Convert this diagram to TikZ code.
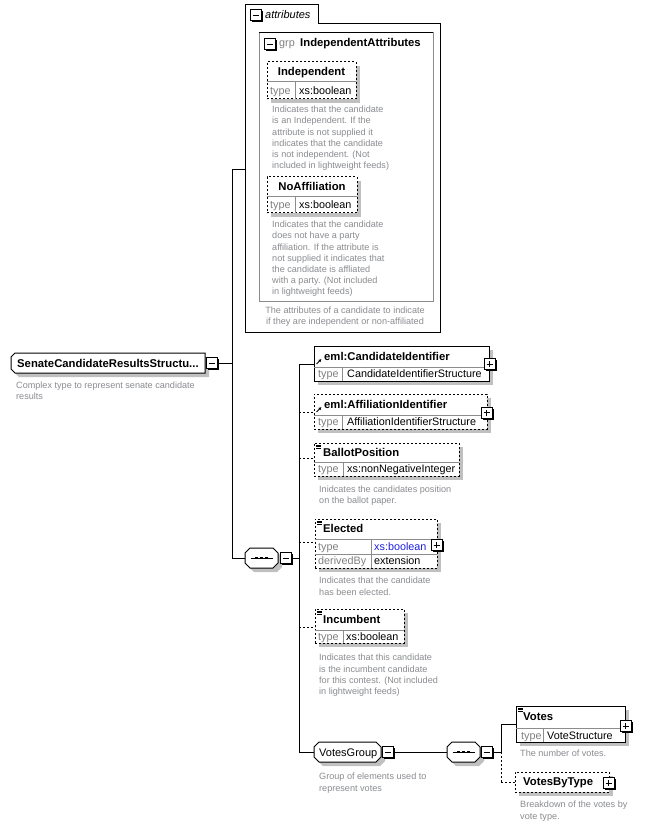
\documentclass[tikz,border=0pt]{standalone}
\usepackage{fontspec}
\setmainfont{Liberation Sans}
\usetikzlibrary{arrows.meta}

\definecolor{shadowc}{HTML}{C0C0C0}
\definecolor{typec}{HTML}{808080}
\definecolor{descc}{HTML}{8A8C90}
\definecolor{rowc}{HTML}{8C8C8C}
\definecolor{bluec}{HTML}{2020E0}

\tikzset{
  ebox/.style={draw, line width=1pt, fill=white, rectangle, inner sep=0pt, outer sep=0pt},
  optbox/.style={ebox, dash pattern=on 2pt off 2pt},
  pmb/.style={draw, line width=1pt, fill=white, rectangle, minimum size=11pt, inner sep=0pt, outer sep=0pt},
  anchorbox/.style={rectangle, inner sep=0pt, outer sep=0pt},
  rowline/.style={draw=rowc, line width=1pt},
  nm/.style={font=\bfseries\fontsize{11.3}{13}\selectfont, anchor=base west, inner sep=0pt},
  lbl/.style={font=\fontsize{10.8}{13}\selectfont, anchor=base west, inner sep=0pt},
  typelbl/.style={lbl, text=typec},
  desc/.style={font=\fontsize{9.1}{11.2}\selectfont, text=descc, align=left, anchor=north west, inner sep=0pt},
  conn/.style={line width=1pt},
  optconn/.style={line width=1pt, dash pattern=on 2pt off 2pt},
  shadowfill/.style={fill=shadowc},
  octline/.style={draw, line width=1pt, fill=white},
}

% element box with its grey drop shadow: style, name, x, y, width, height
\newcommand\elbox[6]{%
  \fill[shadowc] (#3+4,#4+4) rectangle ++(#5,#6);
  \node[#1, minimum width=#5pt, minimum height=#6pt, anchor=north west] (#2) at (#3,#4) {};
}
% expand/collapse button: name, x, y, 1 = plus / 0 = minus
\newcommand\pmbox[4]{%
  \fill (#2+1.5,#3+1.5) rectangle ++(11,11);
  \node[pmb, anchor=north west] (#1) at (#2,#3) {};
  \draw[line width=0.9pt] ([xshift=-3pt]#1.center) -- ([xshift=3pt]#1.center);
  \ifnum#4=1 \draw[line width=0.9pt] ([yshift=-3pt]#1.center) -- ([yshift=3pt]#1.center);\fi
}
% chamfered outline with shadow: x, y, w, h, right chamfer, left chamfer
\newcommand\chamfered[6]{%
  \path[shadowfill, shift={(4,4)}] (#1+#6,#2) -- (#1+#3-#5,#2) -- (#1+#3,#2+#5) -- (#1+#3,#2+#4-#5)
     -- (#1+#3-#5,#2+#4) -- (#1+#6,#2+#4) -- (#1,#2+#4-#6) -- (#1,#2+#6) -- cycle;
  \path[octline] (#1+#6,#2) -- (#1+#3-#5,#2) -- (#1+#3,#2+#5) -- (#1+#3,#2+#4-#5)
     -- (#1+#3-#5,#2+#4) -- (#1+#6,#2+#4) -- (#1,#2+#4-#6) -- (#1,#2+#6) -- cycle;
}
% sequence symbol centred at x, y
\newcommand\seqsym[2]{%
  \draw[line width=0.9pt] (#1-11,#2) -- (#1+11,#2);
  \foreach \d in {-5,0,5} \fill (#1+\d-1.3,#2-1.3) rectangle ++(2.6,2.6);
}
% simple-content icon at a box's top-left corner
\newcommand\simpleicon[2]{%
  \draw[line width=0.5pt] (#1+2,#2+2) -- ++(5,0) (#1+2,#2+3.5) -- ++(5,0) (#1+2,#2+5) -- ++(5,0);
}
% reference arrow icon, tail at x, y
\newcommand\refarrow[2]{%
  \draw[line width=0.8pt, -{Triangle[length=2.6pt,width=2.8pt]}] (#1,#2) -- (#1+4.8,#2-4.8);
}

\begin{document}
\begin{tikzpicture}[x=1pt,y=-1pt]
\fill[white] (0,0) rectangle (647,826);
\useasboundingbox (0,0) rectangle (647,826);

% ---------- attributes container ----------
\draw[line width=1pt] (245,332) -- (245,5) -- (318,5) -- (318,24) -- (440,24) -- (440,332) -- cycle;
\coordinate (attrs-in) at (245,170);
\pmbox{attrs-m}{250}{10}{0}
\node[lbl, font=\itshape\fontsize{11}{13}\selectfont] (attrs-t) at (265,19) {attributes};

% attribute group
\draw[draw=rowc, line width=1pt] (259,33) rectangle (433,301);
\draw[line width=1pt] (259,33) -- (433,33);
\pmbox{grp-m}{264}{39}{0}
\node[lbl, text=typec] (grp-k) at (279,47) {grp};
\node[nm] (grp-t) at (300,47) {IndependentAttributes};

% Independent
\elbox{optbox}{indep}{267}{62}{89}{37}
\draw[rowline] (267,82) -- (356,82) (295,82) -- (295,99);
\node[nm, anchor=base] (indep-t) at (311.5,76) {Independent};
\node[typelbl] (indep-k) at (270,94.5) {type};
\node[lbl] (indep-v) at (299,94.5) {xs:boolean};
\node[desc] (indep-d) at (272,106) {Indicates that the candidate\\is an Independent. If the\\attribute is not supplied it\\indicates that the candidate\\is not independent. (Not\\included in lightweight feeds)};

% NoAffiliation
\elbox{optbox}{noaff}{267}{177}{90}{36}
\draw[rowline] (267,197) -- (357,197) (295,197) -- (295,213);
\node[nm, anchor=base] (noaff-t) at (312,191) {NoAffiliation};
\node[typelbl] (noaff-k) at (270,209) {type};
\node[lbl] (noaff-v) at (299,209) {xs:boolean};
\node[desc] (noaff-d) at (272,221) {Indicates that the candidate\\does not have a party\\affiliation. If the attribute is\\not supplied it indicates that\\the candidate is affliated\\with a party. (Not included\\in lightweight feeds)};

\node[desc, align=center, anchor=north] (attrs-d) at (345,306.5) {The attributes of a candidate to indicate\\if they are independent or non-affiliated};

% ---------- complex type ----------
\chamfered{11}{353}{194}{20}{0}{4}
\node[anchorbox, minimum width=194pt, minimum height=20pt, anchor=north west] (sc) at (11,353) {};
\node[nm] (sc-t) at (17,367.5) {SenateCandidateResultsStructu...};
\pmbox{sc-m}{206}{357.5}{0}
\node[desc] (sc-d) at (16,382) {Complex type to represent senate candidate\\results};

% trunk
\coordinate (t1) at (232,170);
\coordinate (t2) at (232,363);
\coordinate (t3) at (232,558);
\draw[conn] (sc-m.east) -- (t2);
\draw[conn] (attrs-in) -- (t1) -- (t3);

% ---------- main sequence ----------
\chamfered{245}{548}{33}{20}{5}{5}
\node[anchorbox, minimum width=33pt, minimum height=20pt, anchor=north west] (seq1) at (245,548) {};
\seqsym{261.5}{558}
\pmbox{seq1-m}{280}{552.5}{0}
\draw[conn] (t3) -- (seq1.west);

\coordinate (b0) at (299,558);
\coordinate (b1) at (299,364);
\coordinate (b2) at (299,412);
\coordinate (b3) at (299,458);
\coordinate (b4) at (299,542);
\coordinate (b5) at (299,627);
\coordinate (b6) at (299,752);
\draw[conn] (seq1-m.east) -- (b0);
\draw[conn] (b1) -- (b6);

% eml:CandidateIdentifier
\elbox{ebox}{cand}{314}{346}{175}{35}
\draw[rowline] (314,367) -- (489,367) (342,367) -- (342,381);
\refarrow{316.5}{364}
\node[nm] (cand-t) at (324,360) {eml:CandidateIdentifier};
\node[typelbl] (cand-k) at (318,377.5) {type};
\node[lbl] (cand-v) at (347,377.5) {CandidateIdentifierStructure};
\pmbox{cand-p}{484}{358.5}{1}
\coordinate (cand-in) at (314,364);
\draw[conn] (b1) -- (cand-in);

% eml:AffiliationIdentifier
\elbox{optbox}{affil}{314}{394}{173}{35}
\draw[rowline] (314,415) -- (487,415) (342,415) -- (342,429);
\refarrow{316.5}{412}
\node[nm] (affil-t) at (324,408) {eml:AffiliationIdentifier};
\node[typelbl] (affil-k) at (318,425.5) {type};
\node[lbl] (affil-v) at (347,425.5) {AffiliationIdentifierStructure};
\pmbox{affil-p}{481}{407}{1}
\coordinate (affil-in) at (314,412);
\draw[optconn] (b2) -- (affil-in);

% BallotPosition
\elbox{optbox}{ballot}{314}{443}{145}{33}
\draw[rowline] (314,462) -- (459,462) (343,462) -- (343,476);
\simpleicon{314}{443}
\node[nm] (ballot-t) at (323,456) {BallotPosition};
\node[typelbl] (ballot-k) at (318,472.5) {type};
\node[lbl] (ballot-v) at (347,472.5) {xs:nonNegativeInteger};
\coordinate (ballot-in) at (314,458);
\draw[optconn] (b3) -- (ballot-in);
\node[desc] (ballot-d) at (319,486) {Inidcates the candidates position\\on the ballot paper.};

% Elected
\elbox{optbox}{elect}{315}{519}{122}{49}
\draw[rowline] (315,539) -- (437,539) (315,554) -- (437,554) (371,539) -- (371,568);
\simpleicon{315}{519}
\node[nm] (elect-t) at (323,532) {Elected};
\node[typelbl] (elect-k) at (318,550) {type};
\node[lbl, text=bluec] (elect-v) at (374,550) {xs:boolean};
\node[typelbl] (elect-k2) at (318,564.5) {derivedBy};
\node[lbl] (elect-v2) at (374,564.5) {extension};
\pmbox{elect-p}{431}{539.5}{1}
\coordinate (elect-in) at (315,542);
\draw[optconn] (b4) -- (elect-in);
\node[desc] (elect-d) at (319,577) {Indicates that the candidate\\has been elected.};

% Incumbent
\elbox{optbox}{incum}{315}{609}{89}{34}
\draw[rowline] (315,630) -- (404,630) (343,630) -- (343,643);
\simpleicon{315}{609}
\node[nm] (incum-t) at (323,623) {Incumbent};
\node[typelbl] (incum-k) at (318,640) {type};
\node[lbl] (incum-v) at (346,640) {xs:boolean};
\coordinate (incum-in) at (315,627);
\draw[optconn] (b5) -- (incum-in);
\node[desc] (incum-d) at (319,654) {Indicates that this candidate\\is the incumbent candidate\\for this contest. (Not included\\in lightweight feeds)};

% ---------- VotesGroup ----------
\chamfered{314}{742}{67}{20}{5}{5}
\node[anchorbox, minimum width=67pt, minimum height=20pt, anchor=north west] (vg) at (314,742) {};
\node[lbl, font=\fontsize{11}{13}\selectfont] (vg-t) at (319,756.5) {VotesGroup};
\pmbox{vg-m}{382}{746.5}{0}
\draw[conn] (b6) -- (vg.west);
\node[desc] (vg-d) at (319,773) {Group of elements used to\\represent votes};

\chamfered{447}{742}{33}{20}{5}{5}
\node[anchorbox, minimum width=33pt, minimum height=20pt, anchor=north west] (seq2) at (447,742) {};
\seqsym{463.5}{752}
\pmbox{seq2-m}{481}{746.5}{0}
\draw[conn] (vg-m.east) -- (seq2.west);

\coordinate (c0) at (501,752);
\coordinate (c1) at (501,724);
\coordinate (c2) at (501,782);
\draw[conn] (seq2-m.east) -- (c0);
\draw[conn] (c1) -- (c0);
\draw[optconn] (c0) -- (c2);

% Votes
\elbox{ebox}{votes}{516}{706}{109}{36}
\draw[rowline] (516,728) -- (625,728) (543,728) -- (543,742);
\simpleicon{516}{706}
\node[nm] (votes-t) at (523,720.5) {Votes};
\node[typelbl] (votes-k) at (521,739) {type};
\node[lbl] (votes-v) at (547,739) {VoteStructure};
\pmbox{votes-p}{620}{720.5}{1}
\coordinate (votes-in) at (516,724);
\draw[conn] (c1) -- (votes-in);
\node[desc] (votes-d) at (520,750) {The number of votes.};

% VotesByType
\elbox{optbox}{vbt}{515}{772}{94}{20}
\node[nm] (vbt-t) at (523,785) {VotesByType};
\pmbox{vbt-p}{603}{777.5}{1}
\coordinate (vbt-in) at (515,782);
\draw[optconn] (c2) -- (vbt-in);
\node[desc] (vbt-d) at (520,801) {Breakdown of the votes by\\vote type.};

\end{tikzpicture}
\end{document}
